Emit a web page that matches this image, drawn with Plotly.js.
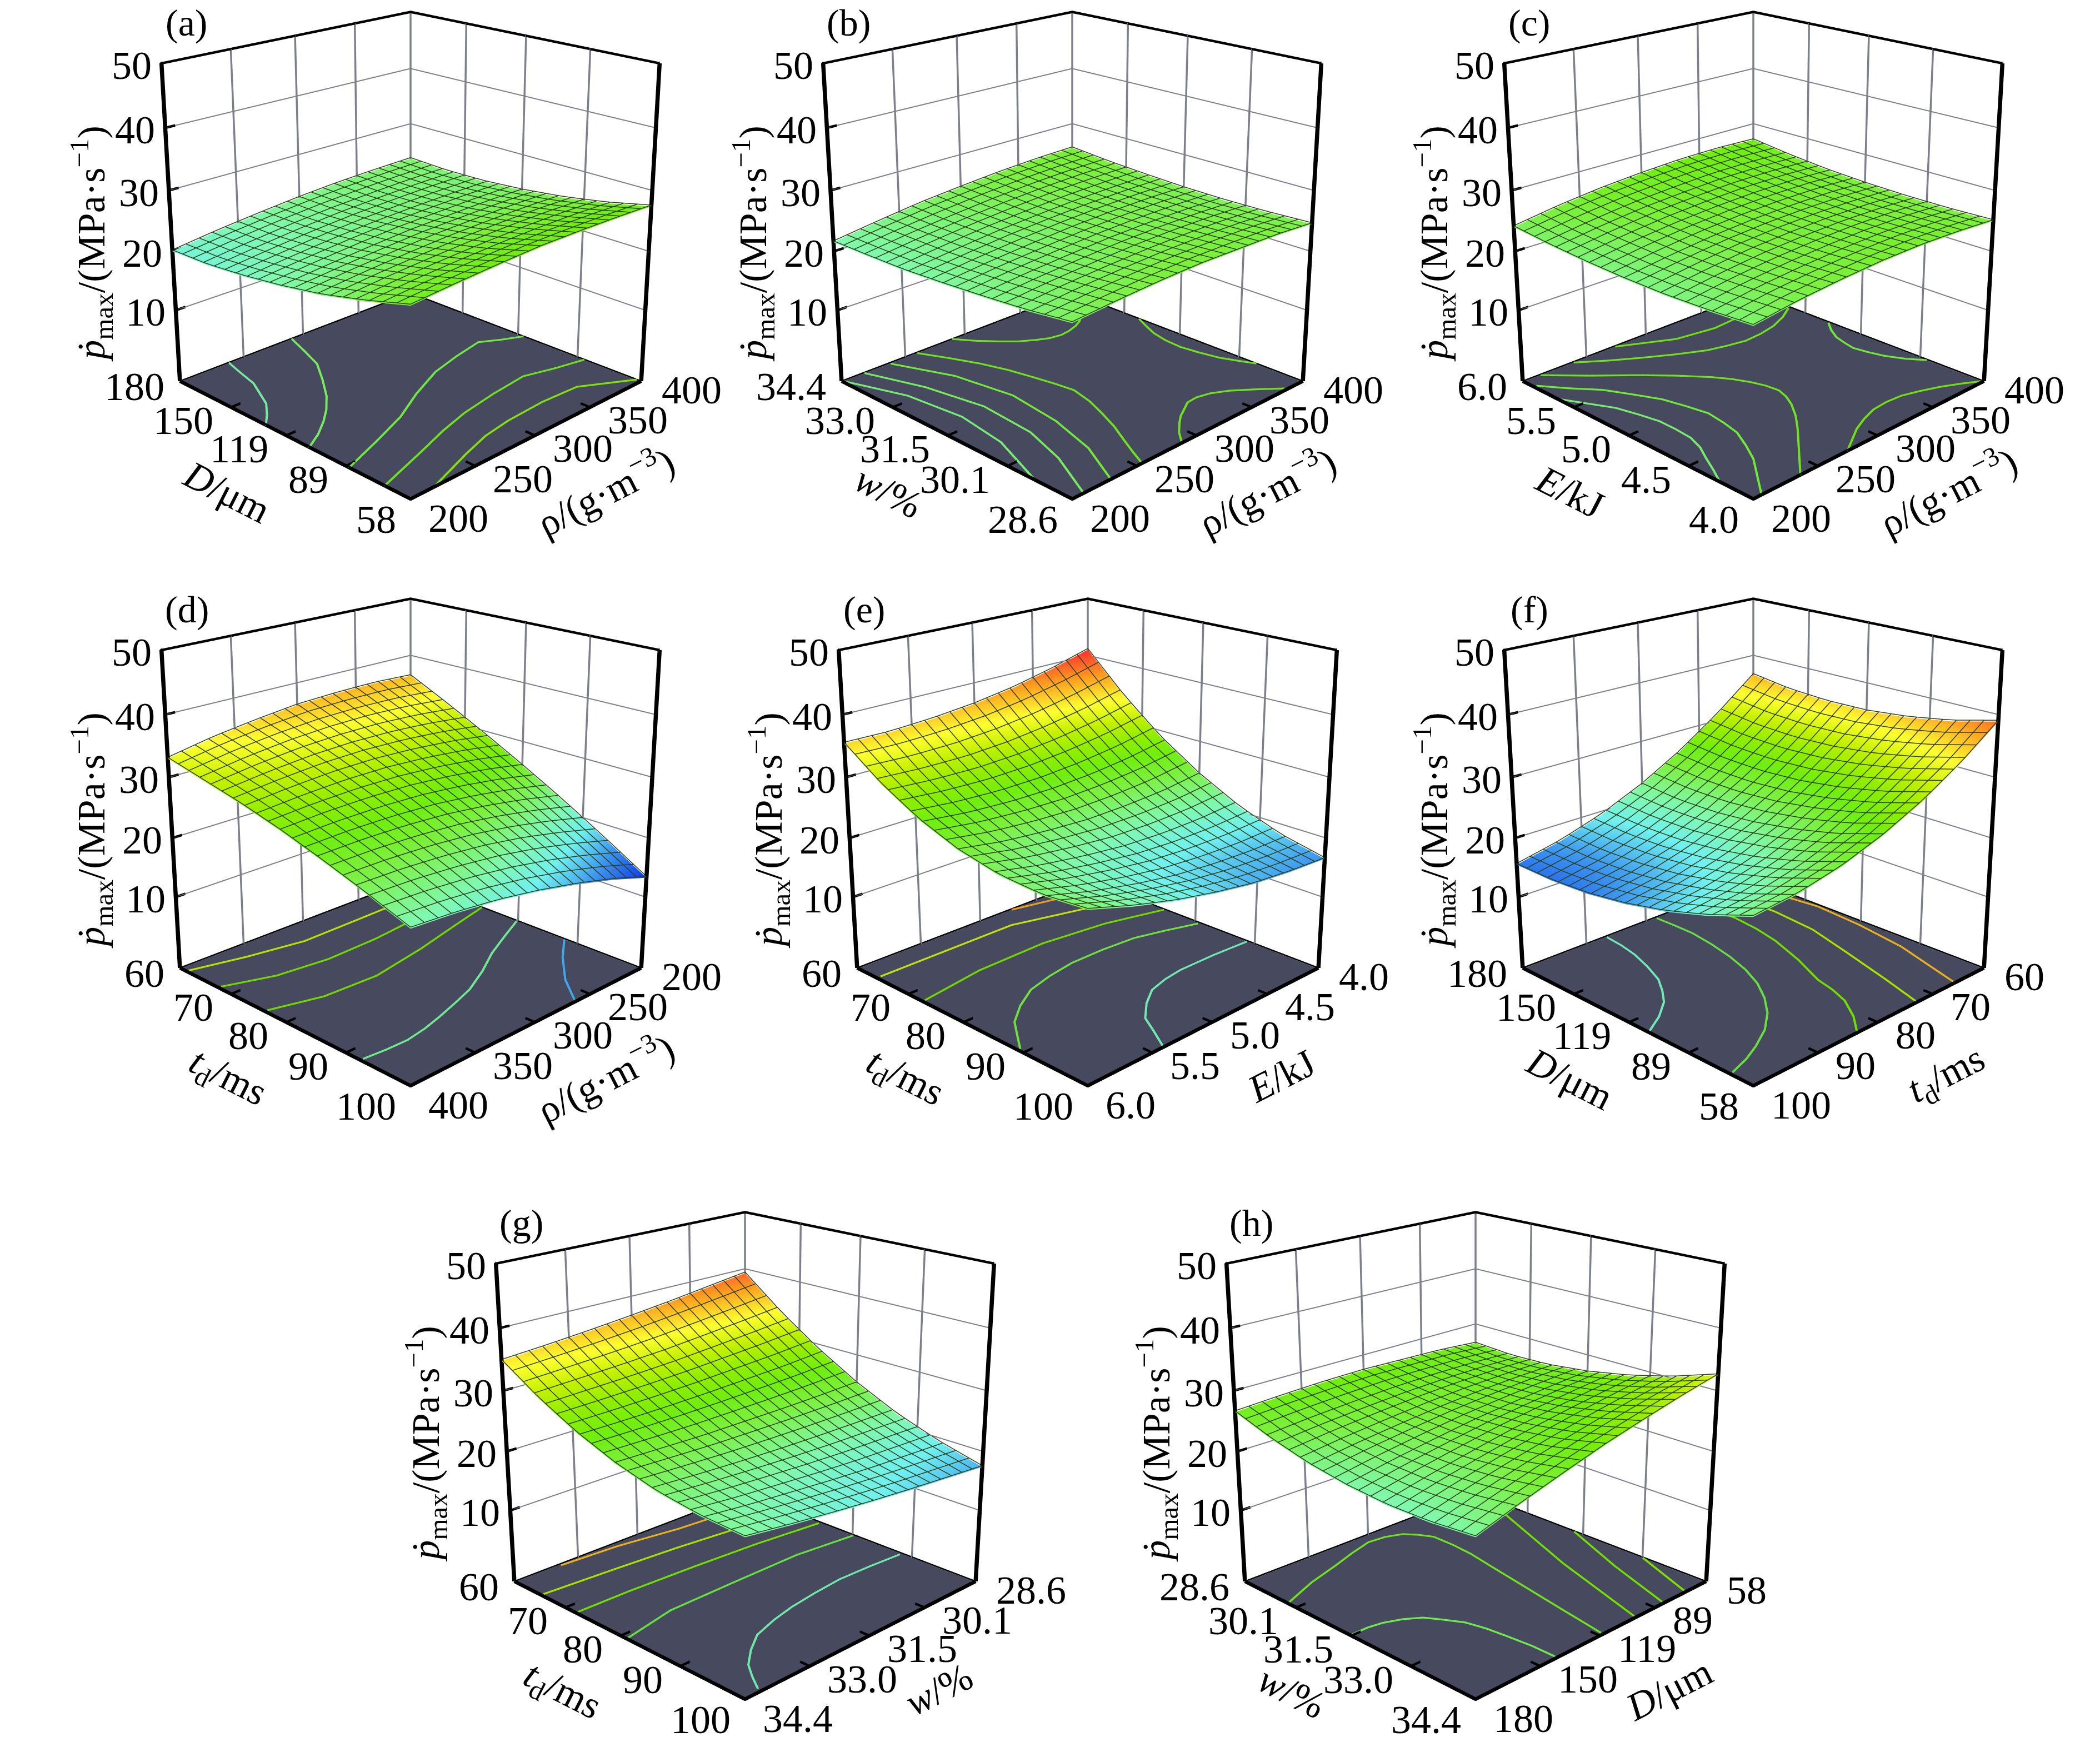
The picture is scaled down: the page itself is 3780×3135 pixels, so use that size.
<!DOCTYPE html>
<html><head><meta charset="utf-8">
<script src="https://cdn.plot.ly/plotly-3.0.1.min.js"></script>
<style>html,body{margin:0;padding:0;background:#fff;width:3780px;height:3135px;overflow:hidden}
#wrap{position:absolute;left:0;top:0;width:3780px;height:3135px;overflow:hidden}
#chart{position:absolute;left:0;top:-800px;width:3780px;height:4600px}</style>
</head><body><div id="wrap"><div id="chart"></div></div>
<script>
// grid coordinates
const rhoGrid=[200,233.3,266.7,300,333.3,366.7,400];
const dGrid=[58,78.3,98.7,119,139.3,159.7,180];
const wGrid=[28.6,29.57,30.53,31.5,32.47,33.43,34.4];
const eGrid=[4,4.33,4.67,5,5.33,5.67,6];
const tdGrid=[60,66.67,73.33,80,86.67,93.33,100];
// tick values
const rhoTicks=[200,250,300,350,400];
const dTicks=[58,88.5,119,149.5,180];
const dLabels=['58','89','119','150','180'];
const wTicks=[28.6,30.05,31.5,32.95,34.4];
const wLabels=['28.6','30.1','31.5','33.0','34.4'];
const eTicks=[4,4.5,5,5.5,6];
const eLabels=['4.0','4.5','5.0','5.5','6.0'];
const tdTicks=[60,70,80,90,100];
const zTicks=[10,20,30,40,50];
// surfaces (rows: y axis, columns: x axis)
const zA=[[26.5,27.0,27.4,27.7,27.7,27.6,27.4],[24.5,25.1,25.5,25.8,26.0,26.0,25.8],[22.8,23.5,24.0,24.4,24.6,24.7,24.6],[21.6,22.3,22.9,23.4,23.6,23.8,23.8],[20.7,21.5,22.2,22.7,23.0,23.2,23.3],[20.1,21.0,21.8,22.4,22.8,23.1,23.2],[20.0,21.0,21.8,22.5,23.0,23.3,23.5]];
const zB=[[24.0,24.5,24.9,25.1,25.0,24.9,24.5],[23.1,23.8,24.2,24.5,24.6,24.5,24.2],[22.5,23.2,23.7,24.1,24.3,24.3,24.1],[22.0,22.8,23.4,23.9,24.2,24.3,24.2],[21.6,22.5,23.3,23.8,24.2,24.4,24.5],[21.5,22.5,23.3,24.0,24.5,24.8,24.9],[21.5,22.6,23.6,24.3,24.9,25.3,25.5]];
const zC=[[23.6,24.5,25.1,25.5,25.6,25.4,25.0],[23.1,24.1,24.7,25.1,25.3,25.2,24.8],[22.8,23.8,24.6,25.0,25.2,25.1,24.8],[22.8,23.8,24.6,25.1,25.3,25.3,25.0],[23.0,24.1,24.9,25.4,25.7,25.7,25.4],[23.4,24.5,25.4,25.9,26.3,26.3,26.1],[24.0,25.2,26.1,26.7,27.1,27.2,27.0]];
const zD=[[36.3,36.6,36.5,36.2,35.4,34.4,33.0],[33.0,33.6,33.9,33.8,33.4,32.6,31.5],[29.5,30.4,31.0,31.3,31.2,30.7,30.0],[25.8,27.0,27.9,28.5,28.7,28.6,28.2],[21.9,23.4,24.6,25.5,26.0,26.2,26.1],[17.7,19.5,21.1,22.3,23.1,23.6,23.8],[13.3,15.5,17.3,18.8,20.0,20.8,21.3]];
const zE=[[41.0,39.1,37.5,36.4,35.7,35.3,35.4],[34.4,32.9,31.7,30.9,30.5,30.6,31.0],[28.8,27.6,26.8,26.4,26.4,26.8,27.6],[24.3,23.4,23.0,22.9,23.3,24.0,25.2],[20.7,20.2,20.1,20.4,21.2,22.3,23.8],[18.1,18.0,18.3,18.9,20.0,21.5,23.4],[16.5,16.8,17.4,18.5,19.9,21.8,24.0]];
const zF=[[38.9,37.1,35.9,35.2,35.1,35.5,36.5],[34.3,32.4,31.0,30.2,29.9,30.2,31.1],[30.5,28.4,26.9,25.9,25.5,25.7,26.4],[27.5,25.2,23.6,22.5,21.9,21.9,22.5],[25.2,22.8,21.0,19.8,19.1,19.0,19.4],[23.7,21.2,19.3,17.9,17.1,16.8,17.1],[23.0,20.4,18.3,16.8,15.8,15.4,15.5]];
const zG=[[39.2,38.3,37.4,36.6,35.9,35.3,34.8],[33.8,33.1,32.5,31.9,31.5,31.2,30.9],[29.1,28.6,28.3,28.0,27.8,27.7,27.7],[25.1,24.9,24.8,24.8,24.8,25.0,25.2],[21.8,21.9,22.0,22.2,22.5,22.9,23.4],[19.3,19.6,19.9,20.4,21.0,21.6,22.4],[17.4,18.0,18.6,19.3,20.1,21.0,22.0]];
const zH=[[26.4,26.9,27.1,27.3,27.2,26.9,26.5],[26.0,26.2,26.2,26.0,25.6,25.1,24.4],[26.2,26.1,25.8,25.3,24.6,23.8,22.8],[27.0,26.5,25.9,25.2,24.2,23.1,21.8],[28.3,27.5,26.6,25.6,24.3,22.9,21.3],[30.1,29.1,27.9,26.5,25.0,23.3,21.4],[32.5,31.2,29.7,28.1,26.2,24.2,22.0]];
// floor contour lines
const contA=[[[238,234,230,224,218,209,200],[180,170,159,151,143,136,130]],[[290,283,276,263,250,238,227,214,200],[180,167,155,143,132,124,118,112,107]],[[400,386,372,346,320,290,262,232,200],[116,120,125,122,118,110,101,94,87]],[[400,377,354,323,292,267,242,221,200],[85,88,92,90,87,83,78,74,70]],[[400,383,366,335,303,280,257,237,217],[60,66,72,73,72,70,66,62,58]]];
const contAColors=['#78eaa0','#78ea60','#70e840','#70e020','#80e010'];
const contB=[[[375,368,361,352,344,335,327,317,308,298,289],[33.43,33.28,33.18,33.1,33.07,33.12,33.24,33.43,33.69,34.02,34.4]],[[400,394,389,386,385,387,390,395,400],[32.56,32.2,31.87,31.5,31.1,30.7,30.29,29.95,29.64]],[[384,371,358,347,337,328,321,312,305,296,289],[28.65,28.98,29.28,29.45,29.52,29.5,29.39,29.25,29.1,28.88,28.65]],[[259,269,277,283,287,290,292,288,282,275,267,261,255],[34.37,33.75,33.2,32.65,32.1,31.65,31.22,30.72,30.26,29.78,29.34,29,28.64]],[[237,254,261,256,246,230],[34.36,33.14,31.83,30.61,29.56,28.63]],[[217,231,239,236,226,209],[34.38,33.16,31.87,30.62,29.66,28.62]],[[201,216,221,216,200],[34.37,33.12,31.84,30.71,29.41]]];
const contBColors=['#70e020','#70e020','#70e020','#70e020','#72e83a','#78ea60','#78ea78'];
const contC=[[[364,339,309,273],[5.77,5.75,5.8,5.99]],[[398,384,369,354,339,325,311,292,274,256,239],[5.64,5.56,5.5,5.47,5.46,5.49,5.53,5.63,5.74,5.86,5.99]],[[399,391,385,382,380,382,385,391,399],[5.28,5.18,5.08,4.98,4.89,4.78,4.67,4.55,4.44]],[[213,234,256,272,286,293,298,301,302,299,294,285,274,255,236],[5.99,5.77,5.56,5.39,5.22,5.11,5,4.9,4.8,4.71,4.62,4.5,4.38,4.19,4]],[[399,387,375,362,349,336,323,310,298,286,274],[4.01,4.08,4.14,4.19,4.23,4.24,4.23,4.19,4.14,4.07,4]],[[202,214,227,236,244,248,251,249,246,239,231,219,207],[5.89,5.72,5.56,5.38,5.21,5.04,4.88,4.73,4.59,4.45,4.31,4.16,4.01]],[[201,209,217,221,224,224,223,219,213,207,201],[5.64,5.48,5.32,5.16,5.01,4.87,4.73,4.61,4.5,4.38,4.27]]];
const contCColors=['#70e010','#70e020','#72e83a','#70e020','#70e010','#72e83a','#78ea70'];
const contD=[[[399,361,320,279,250,223],[61.3,63.3,64.9,64.8,64.7,65]],[[398,365,327,286,252,223],[67.6,70,71,70.8,70.1,69.2]],[[398,363,322,276,232,200],[76.2,78.2,78.6,77,75,73.6]],[[398,382,366,350,334,315,296,272,249,225,201],[92.3,92.6,92.7,92.2,91.4,90.3,89.1,86.8,84.2,82,79.9]],[[262,245,222,201],[99.6,95.4,91.2,88]]];
const contDColors=['#b8e000','#70d800','#70d800','#70e890','#40a8e8'];
const contE=[[[4.73,4.42,4.24],[60.2,61.7,62.8]],[[5.97,5.46,4.9,4.46,4.01],[63.9,63.9,63.9,66.4,69]],[[5.98,5.49,4.95,4.45,4.01],[72.6,71.1,70.9,72.2,74.6]],[[5.98,5.88,5.79,5.63,5.45,5.24,5.02,4.75,4.48,4.25,4.02],[89.1,86.4,84,81.5,79.4,78.3,77.6,77.6,78,79.3,80.8]],[[5.4,5.31,5.23,5.09,4.94,4.78,4.62,4.31,4.01],[99.7,96.7,93.9,91.5,89.6,88.8,88.4,88.5,88.9]]];
const contEColors=['#e8a020','#c0e010','#70d800','#70e040','#70e8b0'];
const contF=[[[179,169,159,148,137,129,122,115,109.5],[86.9,87.2,87.8,88.9,90.3,92,93.8,96.6,99.6]],[[179,169,158,145,132,120,109,99,90,82,76,72,69],[78.4,78.3,78.3,78.9,79.8,81,82.6,84.7,87.2,90.3,93.7,96.5,99.5]],[[179,168,157,143,130,112,95,86,77,67,59],[71.9,71.4,71,71.5,72.4,74.4,76.8,77.5,78.6,80.8,83.2]],[[174,150,127,103,78,59],[66.2,65.8,66.5,68.6,70.9,72.8]],[[165,141,117,92,58.5],[61.5,60.5,61.1,62.4,65.7]]];
const contFColors=['#70e8b8','#66e040','#70e000','#a8e000','#e8b020'];
const contG=[[[33.39,32.11,30.76,29.9],[60.4,61,62.5,63]],[[34.35,32.85,31.38,29.98,28.63],[65.3,66,66.8,67.9,69.4]],[[34.37,33.19,31.69,30.22,28.66],[71.9,72,72.5,73.2,74.4]],[[34.39,33.2,31.62,30.04,28.63],[81,79.3,79.2,79.2,80.3]],[[34.03,33.83,33.6,33.22,32.78,32.2,31.65,30.95,30.25,29.45,28.66],[99.4,97.2,95,92.8,90.8,89.6,88.8,88.2,87.8,88,88.4]]];
const contGColors=['#e8b020','#a8e000','#70e000','#66e040','#70e8a8'];
const contH=[[[179,163,147,135,124,116,109,105,102,102,103,106,109,113,117],[29.8,29.47,29.23,29.03,28.88,28.92,29.06,29.3,29.57,30.1,30.63,31.4,32.2,33.25,34.34]],[[179,172,166,159,153,149,145,143,142,141,141],[31.47,31.47,31.52,31.66,31.86,32.16,32.49,32.9,33.32,33.85,34.35]],[[61,66,84,99],[28.96,29.85,32.1,34.35]],[[58.4,72,83],[31.29,32.86,34.35]],[[58.4,70],[32.97,34.35]]];
const contHColors=['#70e020','#72e850','#70e000','#70e000','#80e000'];

const panelLetters=['(a)','(b)','(c)','(d)','(e)','(f)','(g)','(h)'];
const Z_FLOOR=-2.6, Z_TOP=50, PAGE_TOP=800, W=3780, H=4600, SCENE_W=1220, SCENE_H=2240, MESH_CELLS=20;
const colorStops=[[0,'#0a30e8'],[0.12,'#3a90f0'],[0.22,'#70f0f0'],[0.3,'#80f8b0'],[0.42,'#7cf040'],[0.5,'#70ee10'],[0.58,'#90ee00'],[0.66,'#c4f000'],[0.75,'#ffff30'],[0.88,'#ff9a20'],[1,'#ff3030']];
const T_RHO='ρ/(g·m<sup>−3</sup>)',T_D='<i>D</i>/μm',T_W='<i>w</i>/%',T_E='<i>E</i>/kJ',T_TD='<i>t</i><sub>d</sub>/ms';
const T_Z='<i>ṗ</i><sub>max</sub>/(MPa·s<sup>−1</sup>)';

const panels=[
 {cx:739,cy:412,sx:-1,sy:-1,x:rhoGrid,y:dGrid,z:zA,xt:rhoTicks,xl:rhoTicks,yt:dTicks,yl:dLabels,xs:T_RHO,ys:T_D,c:contA,cc:contAColors,xFront:200,xFar:400,yFront:58,yFar:180,xIsRight:true},
 {cx:1930,cy:412,sx:-1,sy:-1,x:rhoGrid,y:wGrid,z:zB,xt:rhoTicks,xl:rhoTicks,yt:wTicks,yl:wLabels,xs:T_RHO,ys:T_W,c:contB,cc:contBColors,xFront:200,xFar:400,yFront:28.6,yFar:34.4,xIsRight:true},
 {cx:3156,cy:412,sx:-1,sy:-1,x:rhoGrid,y:eGrid,z:zC,xt:rhoTicks,xl:rhoTicks,yt:eTicks,yl:eLabels,xs:T_RHO,ys:T_E,c:contC,cc:contCColors,xFront:200,xFar:400,yFront:4,yFar:6,xIsRight:true},
 {cx:739,cy:1468,sx:1,sy:1,x:rhoGrid,y:tdGrid,z:zD,xt:rhoTicks,xl:rhoTicks,yt:tdTicks,yl:tdTicks,xs:T_RHO,ys:T_TD,c:contD,cc:contDColors,xFront:400,xFar:200,yFront:100,yFar:60,xIsRight:true},
 {cx:1958,cy:1468,sx:1,sy:1,x:eGrid,y:tdGrid,z:zE,xt:eTicks,xl:eLabels,yt:tdTicks,yl:tdTicks,xs:T_E,ys:T_TD,c:contE,cc:contEColors,xFront:6,xFar:4,yFront:100,yFar:60,xIsRight:true},
 {cx:3156,cy:1468,sx:-1,sy:1,x:dGrid,y:tdGrid,z:zF,xt:dTicks,xl:dLabels,yt:tdTicks,yl:tdTicks,xs:T_D,ys:T_TD,c:contF,cc:contFColors,xFront:58,xFar:180,yFront:100,yFar:60,xIsRight:false},
 {cx:1341,cy:2572,sx:1,sy:1,x:wGrid,y:tdGrid,z:zG,xt:wTicks,xl:wLabels,yt:tdTicks,yl:tdTicks,xs:T_W,ys:T_TD,c:contG,cc:contGColors,xFront:34.4,xFar:28.6,yFront:100,yFar:60,xIsRight:true},
 {cx:2656,cy:2572,sx:1,sy:1,x:dGrid,y:wGrid,z:zH,xt:dTicks,xl:dLabels,yt:wTicks,yl:wLabels,xs:T_D,ys:T_W,c:contH,cc:contHColors,xFront:180,xFar:58,yFront:34.4,yFar:28.6,xIsRight:true}
];
const data=[],layout={width:W,height:H,margin:{l:0,r:0,t:0,b:0},paper_bgcolor:'#fff',showlegend:false,hovermode:false};
const FONT='"Liberation Serif","Times New Roman",serif';
// a small pad keeps the box edges inside the axes' clipping bounds
function axis(range,vals,pad){return {range:[range[0]-pad,range[1]+pad],autorange:false,tickmode:'array',tickvals:vals,showticklabels:false,ticks:'',showgrid:false,showline:false,zeroline:false,showbackground:false,showspikes:false,title:{text:''}};}
function txt(p,x,y,z,t,xs,ys,anchor,size,angle){return {x:x,y:y,z:z,text:t,showarrow:false,xshift:xs,yshift:ys,xanchor:anchor,yanchor:'middle',textangle:angle||0,font:{family:FONT,size:size,color:'#000'}};}
// height of a panel's surface at a mesh-line position, from its grid
function surfaceAt(p,xv,yv){
  const idx=(g,v)=>{let i=0;while(i<g.length-2&&v>g[i+1])i++;return [i,(v-g[i])/(g[i+1]-g[i])];};
  const [i,u]=idx(p.x,xv),[j,w]=idx(p.y,yv);
  return (1-w)*((1-u)*p.z[j][i]+u*p.z[j][i+1])+w*((1-u)*p.z[j+1][i]+u*p.z[j+1][i+1]);
}
panels.forEach((p,i)=>{
  const id=i===0?'scene':'scene'+(i+1);
  const xr=[Math.min(p.xFront,p.xFar),Math.max(p.xFront,p.xFar)], yr=[Math.min(p.yFront,p.yFar),Math.max(p.yFront,p.yFar)];
  data.push({type:'surface',scene:id,x:xr,y:yr,z:[[Z_FLOOR+0.05,Z_FLOOR+0.05],[Z_FLOOR+0.05,Z_FLOOR+0.05]],surfacecolor:[[0,0],[0,0]],cmin:0,cmax:1,colorscale:[[0,'#474a5e'],[1,'#474a5e']],showscale:false,lighting:{ambient:1,diffuse:0,specular:0,fresnel:0},hoverinfo:'skip'});
  data.push({type:'surface',scene:id,x:p.x,y:p.y,z:p.z,cmin:13,cmax:41,colorscale:colorStops,showscale:false,lighting:{ambient:1,diffuse:0,specular:0,fresnel:0,roughness:1},hoverinfo:'skip'});
  // wire mesh lying on the surface
  const mx=[],my=[],mz=[];
  const addMesh=(px,py)=>{const l=px.map((v,k)=>[v,py[k],surfaceAt(p,v,py[k])+0.22]);
    l.concat([[null,null,null]],l.slice().reverse(),[[null,null,null]]).forEach(q=>{mx.push(q[0]);my.push(q[1]);mz.push(q[2]);});};
  const frac=[];for(let k=0;k<=MESH_CELLS;k++)frac.push(k/MESH_CELLS);
  const fx=frac.map(f=>xr[0]+f*(xr[1]-xr[0])), fy=frac.map(f=>yr[0]+f*(yr[1]-yr[0]));
  fx.forEach(v=>addMesh(fy.map(()=>v),fy));
  fy.forEach(v=>addMesh(fx,fx.map(()=>v)));
  data.push({type:'scatter3d',scene:id,mode:'lines',x:mx,y:my,z:mz,line:{color:'#2a4018',width:3},connectgaps:false,hoverinfo:'skip'});
  const edge=(pts,w,col)=>{const q2=pts.concat(pts.slice().reverse());data.push({type:'scatter3d',scene:id,mode:'lines',x:q2.map(q=>q[0]),y:q2.map(q=>q[1]),z:q2.map(q=>q[2]),line:{color:col,width:w},hoverinfo:'skip'});};
  p.c.forEach((c,k)=>edge(c[0].map((v,n)=>[v,c[1][n],Z_FLOOR+0.15]),8,p.cc[k]));
  const X0=p.xFront,X1=p.xFar,Y0=p.yFront,Y1=p.yFar,zf=Z_FLOOR+0.2,zt=Z_TOP;
  const lx=p.xIsRight?X0:X1, ly=p.xIsRight?Y1:Y0, rx=p.xIsRight?X1:X0, ry=p.xIsRight?Y0:Y1;
  // wall grid at the tick positions
  const GRID='#7d808a';
  p.xt.forEach(v=>{if(v!==X0&&v!==X1)edge([[v,Y1,Z_FLOOR],[v,Y1,zt]],7,GRID);});
  p.yt.forEach(v=>{if(v!==Y0&&v!==Y1)edge([[X1,v,Z_FLOOR],[X1,v,zt]],7,GRID);});
  zTicks.forEach(v=>{if(v!==zt)edge([[lx,ly,v],[X1,Y1,v],[rx,ry,v]],4,GRID);});
  edge([[X1,Y1,Z_FLOOR],[X1,Y1,zt]],7,GRID);
  edge([[lx,ly,zf],[X0,Y0,zf],[rx,ry,zf]],13,'#000');
  edge([[lx,ly,zf],[X1,Y1,zf],[rx,ry,zf]],5,'#000');
  edge([[lx,ly,zt],[X1,Y1,zt],[rx,ry,zt]],9,'#000');
  edge([[lx,ly,zf],[lx,ly,zt]],15,'#000');
  edge([[rx,ry,zf],[rx,ry,zt]],15,'#000');
  const y0=1-(p.cy+PAGE_TOP+SCENE_H/2)/H, y1=1-(p.cy+PAGE_TOP-SCENE_H/2)/H;
  const ann=[];
  const lt=p.xIsRight?p.yt:p.xt, ll=p.xIsRight?p.yl:p.xl, rt=p.xIsRight?p.xt:p.yt, rl=p.xIsRight?p.xl:p.yl;
  const lFront=p.xIsRight?Y0:X0, rFront=p.xIsRight?X0:Y0, lFar=p.xIsRight?Y1:X1, rFar=p.xIsRight?X1:Y1;
  const leftPt=v=>p.xIsRight?[X0,v]:[v,Y0], rightPt=v=>p.xIsRight?[v,Y0]:[X0,v];
  const dl=(rFar-rFront)*0.035, dr=(lFar-lFront)*0.035;
  lt.forEach((v,k)=>{const q=leftPt(v),f=v===lFront,g=v===lFar;
    ann.push(txt(p,q[0],q[1],Z_FLOOR,String(ll[k]),f?-24:g?-26:-30,f?-35:g?-8:-22,'right',72));
    if(!f&&!g){const e=p.xIsRight?[q[0]+dl,q[1]]:[q[0],q[1]+dl];edge([[q[0],q[1],zf],[e[0],e[1],zf]],9,'#000');}});
  rt.forEach((v,k)=>{const q=rightPt(v),f=v===rFront,g=v===rFar;
    ann.push(txt(p,q[0],q[1],Z_FLOOR,String(rl[k]),f?30:g?35:30,f?-33:g?-14:-21,'left',72));
    if(!f&&!g){const e=p.xIsRight?[q[0],q[1]+dr]:[q[0]+dr,q[1]];edge([[q[0],q[1],zf],[e[0],e[1],zf]],9,'#000');}});
  zTicks.forEach(v=>{ann.push(txt(p,lx,ly,v,String(v),-16,-4,'right',72));
    edge([[lx,ly,v],[lx+(X1-lx)*0.035,ly+(Y1-ly)*0.035,v]],9,'#000');});
  const lm=leftPt((lFront+lFar)/2), rm=rightPt((rFront+rFar)/2);
  ann.push(txt(p,lm[0],lm[1],Z_FLOOR,p.xIsRight?p.ys:p.xs,-107,-100,'center',70,27));
  ann.push(txt(p,rm[0],rm[1],Z_FLOOR,p.xIsRight?p.xs:p.ys,125,-95,'center',70,-27));
  ann.push(txt(p,lx,ly,22,T_Z,-145,-9,'center',70,-90));
  ann.push(txt(p,X1,Y1,Z_TOP,panelLetters[i],-403,-20,'center',68));
  layout[id]={domain:{x:[(p.cx-SCENE_W/2)/W,(p.cx+SCENE_W/2)/W],y:[y0,y1]},aspectmode:'manual',aspectratio:{x:1,y:1,z:1.0},
    camera:{eye:{x:p.sx*2.924,y:p.sy*2.924,z:1.505},center:{x:0,y:0,z:0},up:{x:0,y:0,z:1},projection:{type:'perspective'}},
    xaxis:axis(xr,p.xt,(xr[1]-xr[0])*0.004),yaxis:axis(yr,p.yt,(yr[1]-yr[0])*0.004),zaxis:axis([Z_FLOOR,Z_TOP],zTicks,0.2),annotations:ann,bgcolor:'rgba(0,0,0,0)',dragmode:false};
});
window.addEventListener('load',()=>setTimeout(()=>{Plotly.newPlot('chart',data,layout,{displayModeBar:false,responsive:false});},30));
</script></body></html>
